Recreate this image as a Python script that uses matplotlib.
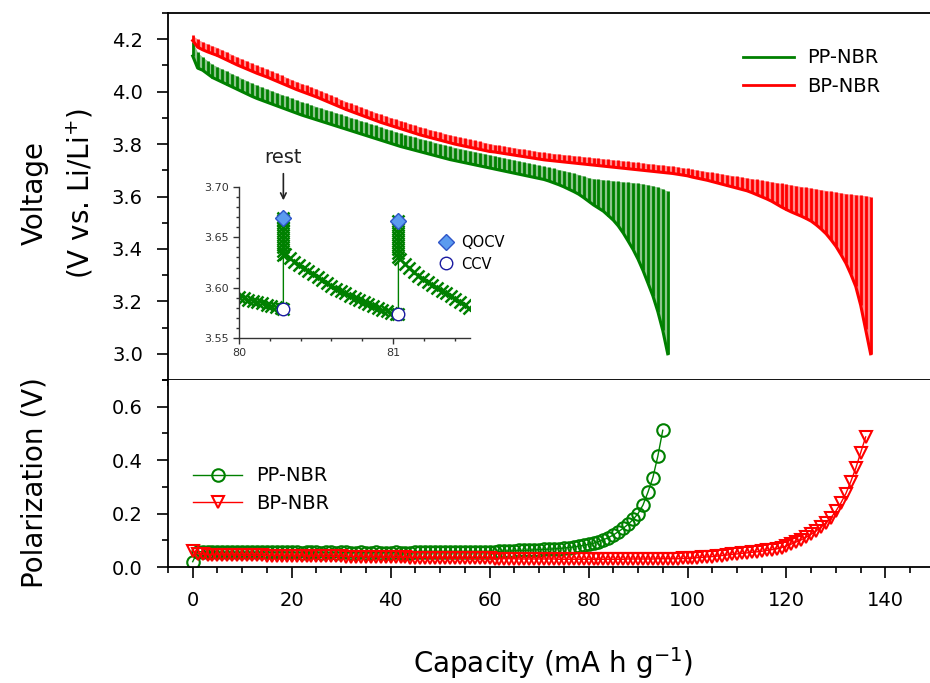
import numpy as np
import matplotlib
matplotlib.use('Agg')
import matplotlib.pyplot as plt
from matplotlib.ticker import MultipleLocator, FormatStrFormatter
from matplotlib.lines import Line2D

GREEN = '#008000'
RED = '#ff0000'

# GITT data, one pulse per ~1 mA h/g
# PP-NBR
pp_cap = np.arange(0, 97)
pp_qocv = [4.190, 4.150, 4.132, 4.118, 4.104, 4.095, 4.086, 4.077, 4.068, 4.059,
           4.050, 4.041, 4.032, 4.024, 4.017, 4.010, 4.003, 3.996, 3.989, 3.982,
           3.975, 3.968, 3.961, 3.955, 3.949, 3.943, 3.937, 3.931, 3.925, 3.919,
           3.913, 3.907, 3.901, 3.895, 3.889, 3.883, 3.877, 3.871, 3.865, 3.859,
           3.853, 3.847, 3.841, 3.836, 3.831, 3.826, 3.821, 3.816, 3.811, 3.806,
           3.801, 3.796, 3.791, 3.787, 3.783, 3.779, 3.775, 3.771, 3.767, 3.763,
           3.759, 3.755, 3.751, 3.747, 3.743, 3.739, 3.735, 3.731, 3.727, 3.723,
           3.719, 3.715, 3.711, 3.707, 3.703, 3.699, 3.694, 3.689, 3.684, 3.678,
           3.672, 3.668, 3.666, 3.664, 3.662, 3.660, 3.658, 3.656, 3.655, 3.653,
           3.651, 3.648, 3.645, 3.641, 3.636, 3.629, 3.620]
pp_ccv = [4.136, 4.090, 4.082, 4.068, 4.054, 4.045, 4.036, 4.027, 4.018, 4.009,
          4.000, 3.991, 3.982, 3.974, 3.967, 3.960, 3.953, 3.946, 3.939, 3.932,
          3.925, 3.918, 3.911, 3.905, 3.899, 3.893, 3.887, 3.881, 3.875, 3.869,
          3.863, 3.857, 3.851, 3.845, 3.839, 3.833, 3.827, 3.821, 3.815, 3.809,
          3.803, 3.797, 3.791, 3.786, 3.781, 3.776, 3.771, 3.766, 3.761, 3.756,
          3.751, 3.746, 3.741, 3.737, 3.733, 3.729, 3.725, 3.721, 3.717, 3.713,
          3.709, 3.705, 3.701, 3.697, 3.693, 3.689, 3.685, 3.681, 3.677, 3.673,
          3.669, 3.665, 3.659, 3.652, 3.645, 3.637, 3.628, 3.619, 3.609, 3.596,
          3.582, 3.568, 3.556, 3.544, 3.527, 3.510, 3.488, 3.461, 3.430, 3.398,
          3.361, 3.318, 3.270, 3.221, 3.161, 3.089, 3.000]
pp_polar = [0.020, 0.058, 0.057, 0.056, 0.056, 0.056, 0.055, 0.056, 0.056, 0.055,
            0.055, 0.056, 0.055, 0.055, 0.056, 0.055, 0.055, 0.055, 0.056, 0.055,
            0.055, 0.055, 0.054, 0.055, 0.055, 0.055, 0.054, 0.055, 0.055, 0.054,
            0.055, 0.055, 0.054, 0.054, 0.055, 0.054, 0.054, 0.055, 0.054, 0.054,
            0.054, 0.055, 0.054, 0.054, 0.054, 0.055, 0.055, 0.055, 0.055, 0.055,
            0.055, 0.055, 0.055, 0.055, 0.055, 0.056, 0.056, 0.056, 0.057, 0.057,
            0.058, 0.058, 0.059, 0.060, 0.060, 0.061, 0.062, 0.062, 0.063, 0.064,
            0.065, 0.066, 0.067, 0.068, 0.069, 0.071, 0.073, 0.075, 0.078, 0.081,
            0.085, 0.089, 0.095, 0.102, 0.110, 0.120, 0.132, 0.145, 0.160, 0.178,
            0.200, 0.232, 0.280, 0.335, 0.415, 0.512]

# BP-NBR
bp_cap = np.arange(0, 138)
bp_qocv = [4.215, 4.200, 4.190, 4.182, 4.175, 4.168, 4.159, 4.150, 4.141, 4.132,
           4.124, 4.116, 4.108, 4.100, 4.093, 4.086, 4.078, 4.070, 4.062, 4.054,
           4.046, 4.038, 4.031, 4.024, 4.017, 4.010, 4.002, 3.994, 3.986, 3.978,
           3.970, 3.962, 3.955, 3.948, 3.941, 3.934, 3.927, 3.920, 3.913, 3.907,
           3.901, 3.895, 3.889, 3.883, 3.877, 3.871, 3.865, 3.860, 3.855, 3.850,
           3.845, 3.840, 3.835, 3.830, 3.826, 3.822, 3.818, 3.814, 3.810, 3.806,
           3.802, 3.798, 3.795, 3.792, 3.789, 3.786, 3.783, 3.780, 3.777, 3.774,
           3.771, 3.768, 3.766, 3.764, 3.762, 3.760, 3.758, 3.756, 3.754, 3.752,
           3.750, 3.748, 3.746, 3.744, 3.742, 3.740, 3.738, 3.736, 3.734, 3.732,
           3.730, 3.728, 3.726, 3.724, 3.722, 3.720, 3.718, 3.716, 3.713, 3.710,
           3.707, 3.704, 3.701, 3.698, 3.695, 3.692, 3.689, 3.686, 3.683, 3.680,
           3.677, 3.674, 3.671, 3.668, 3.665, 3.662, 3.659, 3.656, 3.653, 3.650,
           3.647, 3.644, 3.641, 3.638, 3.635, 3.632, 3.629, 3.626, 3.623, 3.620,
           3.617, 3.614, 3.611, 3.609, 3.607, 3.605, 3.603, 3.600]
bp_ccv = [4.195, 4.170, 4.160, 4.152, 4.145, 4.138, 4.129, 4.120, 4.111, 4.102,
          4.094, 4.086, 4.078, 4.070, 4.063, 4.056, 4.048, 4.040, 4.032, 4.024,
          4.016, 4.008, 4.001, 3.994, 3.987, 3.980, 3.972, 3.964, 3.956, 3.948,
          3.940, 3.932, 3.925, 3.918, 3.911, 3.904, 3.897, 3.890, 3.883, 3.877,
          3.871, 3.865, 3.859, 3.853, 3.847, 3.841, 3.835, 3.830, 3.825, 3.820,
          3.815, 3.810, 3.805, 3.800, 3.796, 3.792, 3.788, 3.784, 3.780, 3.776,
          3.772, 3.770, 3.767, 3.764, 3.761, 3.758, 3.755, 3.752, 3.749, 3.746,
          3.743, 3.740, 3.738, 3.736, 3.734, 3.732, 3.730, 3.728, 3.726, 3.724,
          3.722, 3.720, 3.718, 3.716, 3.714, 3.712, 3.710, 3.708, 3.706, 3.704,
          3.702, 3.700, 3.698, 3.696, 3.694, 3.692, 3.690, 3.688, 3.685, 3.682,
          3.679, 3.674, 3.670, 3.666, 3.662, 3.657, 3.652, 3.647, 3.642, 3.637,
          3.632, 3.627, 3.622, 3.615, 3.607, 3.599, 3.591, 3.582, 3.571, 3.560,
          3.550, 3.541, 3.533, 3.525, 3.516, 3.506, 3.492, 3.476, 3.458, 3.435,
          3.410, 3.379, 3.346, 3.304, 3.257, 3.185, 3.093, 3.000]
bp_polar = [0.060, 0.050, 0.047, 0.046, 0.046, 0.046, 0.045, 0.045, 0.045, 0.045,
            0.044, 0.044, 0.044, 0.044, 0.044, 0.043, 0.043, 0.043, 0.043, 0.042,
            0.042, 0.042, 0.042, 0.041, 0.041, 0.041, 0.041, 0.040, 0.040, 0.040,
            0.040, 0.039, 0.039, 0.039, 0.039, 0.038, 0.038, 0.038, 0.037, 0.037,
            0.037, 0.036, 0.036, 0.036, 0.035, 0.035, 0.035, 0.035, 0.034, 0.034,
            0.034, 0.034, 0.033, 0.033, 0.033, 0.033, 0.032, 0.032, 0.032, 0.032,
            0.032, 0.031, 0.031, 0.031, 0.031, 0.031, 0.030, 0.030, 0.030, 0.030,
            0.030, 0.030, 0.030, 0.030, 0.029, 0.029, 0.029, 0.029, 0.029, 0.029,
            0.029, 0.029, 0.029, 0.029, 0.029, 0.029, 0.029, 0.029, 0.030, 0.030,
            0.030, 0.030, 0.030, 0.030, 0.031, 0.031, 0.031, 0.031, 0.031, 0.032,
            0.032, 0.033, 0.035, 0.036, 0.038, 0.039, 0.041, 0.043, 0.045, 0.047,
            0.049, 0.051, 0.053, 0.055, 0.057, 0.059, 0.062, 0.065, 0.068, 0.073,
            0.079, 0.086, 0.094, 0.102, 0.112, 0.123, 0.135, 0.150, 0.165, 0.185,
            0.210, 0.240, 0.275, 0.320, 0.370, 0.428, 0.487]

# inset: zoom on two pulses of PP-NBR around 80-81.5 mA h/g
inset_cap = [80.00, 80.03, 80.06, 80.09, 80.12, 80.15, 80.18, 80.21, 80.24, 80.27, 80.288,
             80.288, 80.288, 80.288, 80.288, 80.288, 80.288, 80.288, 80.288, 80.288, 80.288, 80.288,
             80.30, 80.33, 80.36, 80.39, 80.42, 80.45, 80.48, 80.51, 80.54, 80.57, 80.60,
             80.63, 80.66, 80.69, 80.72, 80.75, 80.78, 80.81, 80.84, 80.87, 80.90, 80.93,
             80.96, 80.99, 81.02, 81.035,
             81.035, 81.035, 81.035, 81.035, 81.035, 81.035, 81.035, 81.035, 81.035, 81.035,
             81.045, 81.075, 81.105, 81.135, 81.165, 81.195, 81.225, 81.255, 81.285, 81.315,
             81.345, 81.375, 81.405, 81.435, 81.465, 81.495]
inset_v = [3.591, 3.590, 3.588, 3.587, 3.586, 3.585, 3.583, 3.582, 3.581, 3.580, 3.579,
           3.632, 3.636, 3.640, 3.644, 3.648, 3.652, 3.656, 3.660, 3.664, 3.667, 3.669,
           3.633, 3.629, 3.626, 3.623, 3.620, 3.617, 3.614, 3.611, 3.608, 3.605, 3.602,
           3.599, 3.597, 3.595, 3.592, 3.590, 3.588, 3.586, 3.584, 3.582, 3.580, 3.578,
           3.577, 3.575, 3.574, 3.5738,
           3.630, 3.634, 3.638, 3.642, 3.646, 3.650, 3.654, 3.658, 3.662, 3.666,
           3.628, 3.624, 3.620, 3.616, 3.612, 3.609, 3.606, 3.603, 3.600, 3.597,
           3.595, 3.592, 3.589, 3.586, 3.583, 3.580]
rest_cap = [80.288, 81.035]
rest_qocv = [3.6695, 3.666]
rest_ccv = [3.579, 3.5738]


def draw_gitt(ax, cap, ccv, qocv, color, label):
    # dense pulse/rest trace: shaded band, relaxation spikes and the ccv floor
    ax.fill_between(cap, ccv, qocv, color=color, alpha=0.45, lw=0)
    ax.vlines(cap, ccv, qocv, color=color, lw=2.0)
    ax.plot(cap, ccv, color=color, lw=2.2, label=label)


fig = plt.figure(figsize=(9.3, 6.83), dpi=100)
ax1 = fig.add_axes([0.1806, 0.4436, 0.8247, 0.5373])
ax2 = fig.add_axes([0.1806, 0.1698, 0.8247, 0.2738])

# top panel: voltage
draw_gitt(ax1, pp_cap, pp_ccv, pp_qocv, GREEN, 'PP-NBR')
draw_gitt(ax1, bp_cap, bp_ccv, bp_qocv, RED, 'BP-NBR')

ax1.set_xlim(-5, 150)
ax1.set_ylim(2.9, 4.3)
ax1.yaxis.set_major_locator(MultipleLocator(0.2))
ax1.yaxis.set_minor_locator(MultipleLocator(0.1))
ax1.yaxis.set_major_formatter(FormatStrFormatter('%.1f'))
ax1.xaxis.set_major_locator(MultipleLocator(20))
ax1.xaxis.set_minor_locator(MultipleLocator(5))
ax1.tick_params(labelbottom=False)

ax1.legend(handles=[Line2D([], [], color=GREEN, lw=2), Line2D([], [], color=RED, lw=2)],
           labels=['PP-NBR', 'BP-NBR'], loc='upper left',
           bbox_to_anchor=(0.799, 0.929), bbox_transform=fig.transFigure,
           frameon=False, fontsize=14, handlelength=2.6, handletextpad=0.7,
           labelspacing=0.5, borderpad=0, borderaxespad=0)

# bottom panel: polarization
ax2.plot(pp_cap[:-1], pp_polar, color=GREEN, lw=1, marker='o', ms=9,
         mfc='none', mec=GREEN, mew=1.5, label='PP-NBR')
ax2.plot(bp_cap[:-1], bp_polar, color=RED, lw=1, marker='v', ms=9,
         mfc='none', mec=RED, mew=1.5, label='BP-NBR')
ax2.set_xlim(-5, 150)
ax2.set_ylim(0, 0.7)
ax2.xaxis.set_major_locator(MultipleLocator(20))
ax2.xaxis.set_minor_locator(MultipleLocator(5))
ax2.yaxis.set_major_locator(MultipleLocator(0.2))
ax2.yaxis.set_minor_locator(MultipleLocator(0.1))
ax2.yaxis.set_major_formatter(FormatStrFormatter('%.1f'))
ax2.legend(loc='upper left', bbox_to_anchor=(0.208, 0.317), bbox_transform=fig.transFigure,
           frameon=False, fontsize=14, handlelength=2.5, handletextpad=0.7,
           labelspacing=0.45, borderpad=0, borderaxespad=0)

for ax in (ax1, ax2):
    for s in ax.spines.values():
        s.set_linewidth(1.3)
    ax.tick_params(which='both', direction='out', width=1.2, labelsize=14)
    ax.tick_params(which='major', length=8, pad=6)
    ax.tick_params(which='minor', length=4)
    ax.tick_params(axis='y', pad=10)
ax2.spines['top'].set_visible(False)
ax2.tick_params(axis='x', pad=9)

fig.text(35 / 930, 0.717, 'Voltage', rotation=90, ha='center', va='center', fontsize=20)
fig.text(80 / 930, 0.717, '(V vs. Li/Li$^{+}$)', rotation=90, ha='center', va='center', fontsize=20)
fig.text(35 / 930, 0.293, 'Polarization (V)', rotation=90, ha='center', va='center', fontsize=20)
fig.text(0.5946, 0.029, 'Capacity (mA h g$^{-1}$)', ha='center', va='center', fontsize=20)

# inset
ins = fig.add_axes([0.257, 0.5051, 0.2484, 0.2211])
ins.patch.set_alpha(0)
ins.plot(inset_cap, inset_v, color=GREEN, lw=1, marker='x', ms=8, mew=1.8)
ins.plot(rest_cap, rest_qocv, ls='none', marker='D', ms=8, mfc='#5b9bef', mec='#2e55c8',
         mew=1, label='QOCV')
ins.plot(rest_cap, rest_ccv, ls='none', marker='o', ms=9, mfc='white', mec='#1a1aa0',
         mew=1, label='CCV')
ins.set_xlim(80, 81.5)
ins.set_ylim(3.55, 3.70)
ins.spines['top'].set_visible(False)
ins.spines['right'].set_visible(False)
for s in ('left', 'bottom'):
    ins.spines[s].set_linewidth(1)
    ins.spines[s].set_color('#333333')
ins.xaxis.set_major_locator(MultipleLocator(1))
ins.xaxis.set_minor_locator(MultipleLocator(0.2))
ins.yaxis.set_major_locator(MultipleLocator(0.05))
ins.yaxis.set_minor_locator(MultipleLocator(0.01))
ins.xaxis.set_major_formatter(FormatStrFormatter('%d'))
ins.yaxis.set_major_formatter(FormatStrFormatter('%.2f'))
ins.tick_params(which='both', direction='out', labelsize=8, colors='#333333', width=1)
ins.tick_params(which='major', length=4)
ins.tick_params(which='minor', length=2)
ins.legend(loc='upper left', bbox_to_anchor=(0.4718, 0.656), bbox_transform=fig.transFigure,
           frameon=False, fontsize=10.5, handlelength=1.0, handletextpad=0.5,
           labelspacing=0.45, borderpad=0, borderaxespad=0)
ins.annotate('', xy=(80.288, 3.684), xytext=(80.288, 3.716), annotation_clip=False,
             arrowprops=dict(arrowstyle='->', lw=1.2, color='#222222'))
ins.text(80.286, 3.729, 'rest', ha='center', va='center', fontsize=14, color='#222222')

fig.savefig('out.png', dpi=100)
